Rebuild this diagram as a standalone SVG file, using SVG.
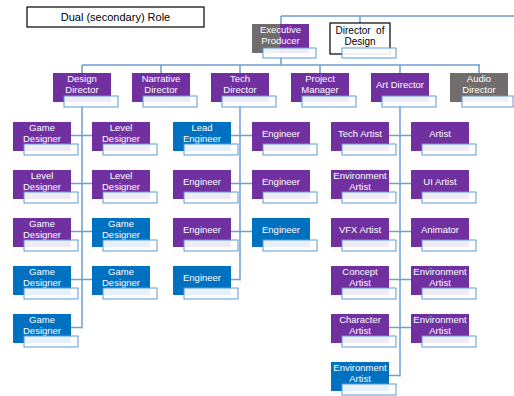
<svg xmlns="http://www.w3.org/2000/svg" width="514" height="396" viewBox="0 0 514 396">
<style>
.bg{fill:#ffffff}
.p{fill:#7030A0}
.b{fill:#0070C0}
.g{fill:#716D6D}
.sb{fill:#ffffff;fill-opacity:0.9;stroke:#5B9BD5;stroke-width:1}
.t{font-family:"Liberation Sans",Arial,sans-serif;font-size:9.5px;fill:#ffffff;text-anchor:middle}
.k{font-family:"Liberation Sans",Arial,sans-serif;font-size:10px;fill:#000000;text-anchor:middle}
.c{fill:none;stroke:#6F9FD0;stroke-width:1.5}
</style>
<rect class="bg" x="0" y="0" width="514" height="396"/>
<g id="connectors">
<path class="c" d="M281,16 H514 M281,16 V65 M360,16 V23 M82,65 H480 M82,65 V73 M161,65 V73 M240,65 V73 M320,65 V73 M400,65 V73 M479,65 V73"/>
<path class="c" d="M82,102 V328.5 M71,135.5 H92 M71,183.5 H92 M71,231.5 H92 M71,279.5 H92 M71,327.5 H82"/>
<path class="c" d="M240,102 V280.5 M231,135.5 H252 M231,183.5 H252 M231,231.5 H252 M231,279.5 H240"/>
<path class="c" d="M400,102 V376.5 M389,135.5 H411 M389,183.5 H411 M389,231.5 H411 M389,279.5 H411 M389,327.5 H411 M389,375.5 H400"/>
</g>
<g id="legend"><rect x="27" y="7" width="177" height="20" fill="#ffffff" stroke="#000000" stroke-width="1.2"/><text class="k" x="115.5" y="21" style="font-size:11px">Dual (secondary) Role</text></g>
<g id="exec-producer"><rect class="g" x="252" y="24" width="28" height="29"/><rect class="p" x="280" y="24" width="29" height="29"/><text class="t" x="280.5" y="33">Executive</text><text class="t" x="280.5" y="44">Producer</text><rect class="sb" x="263" y="48" width="53" height="10"/></g>
<g id="director-of-design"><rect x="330" y="23" width="60" height="31" fill="#ffffff" stroke="#000000" stroke-width="1.2"/><text class="k" x="360" y="34" xml:space="preserve">Director  of</text><text class="k" x="360" y="45">Design</text><rect class="sb" x="342" y="48" width="54" height="10"/></g>

<g id="design-director"><rect class="p" x="53" y="73" width="58" height="29"/><text class="t" x="82" y="82">Design</text><text class="t" x="82" y="93">Director</text><rect class="sb" x="64" y="96" width="54" height="11"/></g>
<g id="narrative-director"><rect class="p" x="132" y="73" width="58" height="29"/><text class="t" x="161" y="82">Narrative</text><text class="t" x="161" y="93">Director</text><rect class="sb" x="143" y="96" width="54" height="11"/></g>
<g id="tech-director"><rect class="p" x="211" y="73" width="58" height="29"/><text class="t" x="240" y="82">Tech</text><text class="t" x="240" y="93">Director</text><rect class="sb" x="222" y="96" width="54" height="11"/></g>
<g id="project-manager"><rect class="p" x="291" y="73" width="58" height="29"/><text class="t" x="320" y="82">Project</text><text class="t" x="320" y="93">Manager</text><rect class="sb" x="302" y="96" width="54" height="11"/></g>
<g id="art-director"><rect class="p" x="371" y="73" width="58" height="29"/><text class="t" x="400" y="88">Art Director</text><rect class="sb" x="382" y="96" width="54" height="11"/></g>
<g id="audio-director"><rect class="g" x="450" y="73" width="58" height="29"/><text class="t" x="479" y="82">Audio</text><text class="t" x="479" y="93">Director</text><rect class="sb" x="462" y="96" width="51" height="11"/></g>

<g id="d-l0"><rect class="p" x="13" y="122" width="58" height="29"/><text class="t" x="42" y="131">Game</text><text class="t" x="42" y="142">Designer</text><rect class="sb" x="24" y="144" width="54" height="11"/></g>
<g id="d-r0"><rect class="p" x="92" y="122" width="58" height="29"/><text class="t" x="121" y="131">Level</text><text class="t" x="121" y="142">Designer</text><rect class="sb" x="103" y="144" width="54" height="11"/></g>
<g id="d-l1"><rect class="p" x="13" y="170" width="58" height="29"/><text class="t" x="42" y="179">Level</text><text class="t" x="42" y="190">Designer</text><rect class="sb" x="24" y="192" width="54" height="11"/></g>
<g id="d-r1"><rect class="p" x="92" y="170" width="58" height="29"/><text class="t" x="121" y="179">Level</text><text class="t" x="121" y="190">Designer</text><rect class="sb" x="103" y="192" width="54" height="11"/></g>
<g id="d-l2"><rect class="p" x="13" y="218" width="58" height="29"/><text class="t" x="42" y="227">Game</text><text class="t" x="42" y="238">Designer</text><rect class="sb" x="24" y="240" width="54" height="11"/></g>
<g id="d-r2"><rect class="b" x="92" y="218" width="58" height="29"/><text class="t" x="121" y="227">Game</text><text class="t" x="121" y="238">Designer</text><rect class="sb" x="103" y="240" width="54" height="11"/></g>
<g id="d-l3"><rect class="b" x="13" y="266" width="58" height="29"/><text class="t" x="42" y="275">Game</text><text class="t" x="42" y="286">Designer</text><rect class="sb" x="24" y="288" width="54" height="11"/></g>
<g id="d-r3"><rect class="b" x="92" y="266" width="58" height="29"/><text class="t" x="121" y="275">Game</text><text class="t" x="121" y="286">Designer</text><rect class="sb" x="103" y="288" width="54" height="11"/></g>
<g id="d-l4"><rect class="b" x="13" y="314" width="58" height="29"/><text class="t" x="42" y="323">Game</text><text class="t" x="42" y="334">Designer</text><rect class="sb" x="24" y="336" width="54" height="11"/></g>

<g id="t-l0"><rect class="b" x="173" y="122" width="58" height="29"/><text class="t" x="202" y="131">Lead</text><text class="t" x="202" y="142">Engineer</text><rect class="sb" x="184" y="144" width="54" height="11"/></g>
<g id="t-r0"><rect class="p" x="252" y="122" width="58" height="29"/><text class="t" x="281" y="137">Engineer</text><rect class="sb" x="263" y="144" width="54" height="11"/></g>
<g id="t-l1"><rect class="p" x="173" y="170" width="58" height="29"/><text class="t" x="202" y="185">Engineer</text><rect class="sb" x="184" y="192" width="54" height="11"/></g>
<g id="t-r1"><rect class="p" x="252" y="170" width="58" height="29"/><text class="t" x="281" y="185">Engineer</text><rect class="sb" x="263" y="192" width="54" height="11"/></g>
<g id="t-l2"><rect class="p" x="173" y="218" width="58" height="29"/><text class="t" x="202" y="233">Engineer</text><rect class="sb" x="184" y="240" width="54" height="11"/></g>
<g id="t-r2"><rect class="b" x="252" y="218" width="58" height="29"/><text class="t" x="281" y="233">Engineer</text><rect class="sb" x="263" y="240" width="54" height="11"/></g>
<g id="t-l3"><rect class="b" x="173" y="266" width="58" height="29"/><text class="t" x="202" y="281">Engineer</text><rect class="sb" x="184" y="288" width="54" height="11"/></g>

<g id="a-l0"><rect class="p" x="331" y="122" width="58" height="29"/><text class="t" x="360" y="137">Tech Artist</text><rect class="sb" x="342" y="144" width="54" height="11"/></g>
<g id="a-r0"><rect class="p" x="411" y="122" width="58" height="29"/><text class="t" x="440" y="137">Artist</text><rect class="sb" x="422" y="144" width="54" height="11"/></g>
<g id="a-l1"><rect class="p" x="331" y="170" width="58" height="29"/><text class="t" x="360" y="179">Environment</text><text class="t" x="360" y="190">Artist</text><rect class="sb" x="342" y="192" width="54" height="11"/></g>
<g id="a-r1"><rect class="p" x="411" y="170" width="58" height="29"/><text class="t" x="440" y="185">UI Artist</text><rect class="sb" x="422" y="192" width="54" height="11"/></g>
<g id="a-l2"><rect class="p" x="331" y="218" width="58" height="29"/><text class="t" x="360" y="233">VFX Artist</text><rect class="sb" x="342" y="240" width="54" height="11"/></g>
<g id="a-r2"><rect class="p" x="411" y="218" width="58" height="29"/><text class="t" x="440" y="233">Animator</text><rect class="sb" x="422" y="240" width="54" height="11"/></g>
<g id="a-l3"><rect class="p" x="331" y="266" width="58" height="29"/><text class="t" x="360" y="275">Concept</text><text class="t" x="360" y="286">Artist</text><rect class="sb" x="342" y="288" width="54" height="11"/></g>
<g id="a-r3"><rect class="p" x="411" y="266" width="58" height="29"/><text class="t" x="440" y="275">Environment</text><text class="t" x="440" y="286">Artist</text><rect class="sb" x="422" y="288" width="54" height="11"/></g>
<g id="a-l4"><rect class="p" x="331" y="314" width="58" height="29"/><text class="t" x="360" y="323">Character</text><text class="t" x="360" y="334">Artist</text><rect class="sb" x="342" y="336" width="54" height="11"/></g>
<g id="a-r4"><rect class="p" x="411" y="314" width="58" height="29"/><text class="t" x="440" y="323">Environment</text><text class="t" x="440" y="334">Artist</text><rect class="sb" x="422" y="336" width="54" height="11"/></g>
<g id="a-l5"><rect class="b" x="331" y="362" width="58" height="29"/><text class="t" x="360" y="371">Environment</text><text class="t" x="360" y="382">Artist</text><rect class="sb" x="342" y="384" width="54" height="11"/></g>
</svg>
